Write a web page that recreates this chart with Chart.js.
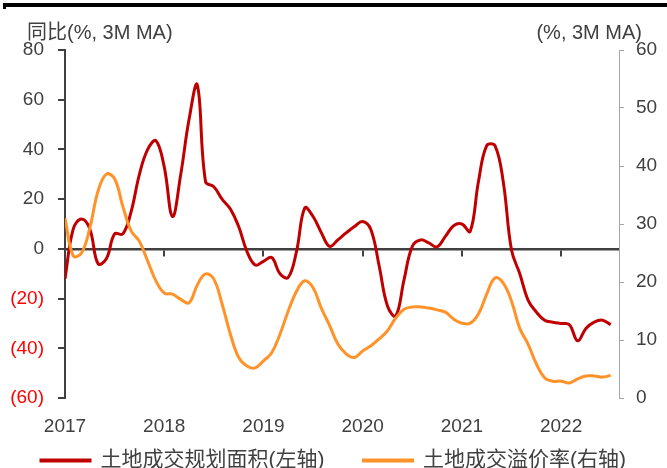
<!DOCTYPE html>
<html><head><meta charset="utf-8">
<script src="https://cdn.jsdelivr.net/npm/chart.js@4.4.0/dist/chart.umd.min.js"></script>
<style>
html,body{margin:0;padding:0;background:#fff;}
#wrap{position:relative;width:667px;height:468px;overflow:hidden;}
#topbar{position:absolute;left:3px;top:3px;width:664px;height:4px;background:#000;}
#stub{position:absolute;left:3px;top:7px;width:3px;height:2px;background:#000;}
canvas{position:absolute;left:0;top:0;}
</style></head><body>
<div id="wrap"><canvas id="c" width="667" height="468"></canvas><div id="topbar"></div><div id="stub"></div></div>
<script>
// ---- data (monthly, Jan 2017 .. Jul 2022) ----
const yearLabels = ['2017','2018','2019','2020','2021','2022'];
const seriesNames = ['土地成交规划面积(左轴)','土地成交溢价率(右轴)'];
const leftTitle = '同比(%, 3M MA)';
const rightTitle = '(%, 3M MA)';
const landArea = [
  -12, 8, 12, 8, -6, -4, 6, 6, 15, 30, 40, 43.5,
  33, 13, 30, 52, 66, 27, 25, 20, 16, 9, -1, -6.5,
  -5, -3.5, -10, -11.5, -1, 16.5, 13, 6.5, 1, 3.6, 6.4, 9,
  11, 7.7, -7, -23, -27, -12.5, 1, 3.6, 2.4, 0.8, 5, 9.3,
  10, 7, 27, 41.5, 41.5, 27, -0.5, -10, -20.6, -25.4, -28.7, -29.5,
  -30, -30.5, -37, -32, -29.5, -28.7, -30.5
];
const premium = [
  31, 24.5, 25, 29.3, 35.7, 38.6, 37.8, 33, 28.8, 27, 23.6, 20.2,
  18.1, 17.9, 17, 16.4, 19.5, 21.4, 20.5, 16.2, 11, 7, 5.5, 5.2,
  6.4, 7.8, 11, 15, 18.4, 20.2, 19, 15.5, 12.5, 9.3, 7.6, 7,
  8.1, 9, 10.2, 11.6, 13.8, 15.3, 15.7, 15.7, 15.5, 15.2, 14.8, 13.6,
  12.9, 12.9, 14.5, 17.9, 20.7, 19.8, 16.7, 12, 9.3, 5.9, 3.5, 2.9,
  2.9, 2.6, 3.3, 3.8, 3.8, 3.6, 3.9
];

const FONT = "'Liberation Sans', Arial, 'Noto Sans CJK SC', sans-serif";
const TEXT = '#404040';
const RED = '#C00000';
const ORANGE = '#FF9228';
const monthsSpan = 67;

Chart.defaults.font.family = FONT;
Chart.defaults.color = TEXT;

const titlePlugin = {
  id: 'axisTitles',
  afterDraw(chart) {
    const {ctx, chartArea} = chart;
    ctx.save();
    ctx.font = '20px ' + FONT;
    ctx.fillStyle = TEXT;
    ctx.textBaseline = 'middle';
    ctx.textAlign = 'left';
    ctx.fillText(leftTitle, chartArea.left - 38, chartArea.top - 17);
    ctx.textAlign = 'right';
    ctx.fillText(rightTitle, chartArea.right + 23, chartArea.top - 17);
    ctx.restore();
  }
};

new Chart(document.getElementById('c'), {
  type: 'line',
  data: {
    datasets: [
      {
        label: seriesNames[0],
        data: landArea.map((v, i) => ({x: i, y: v})),
        borderColor: RED, backgroundColor: RED,
        borderWidth: 3, pointRadius: 0, tension: 0.4,
        yAxisID: 'y', order: 2
      },
      {
        label: seriesNames[1],
        data: premium.map((v, i) => ({x: i, y: v})),
        borderColor: ORANGE, backgroundColor: ORANGE,
        borderWidth: 3, pointRadius: 0, tension: 0.4,
        yAxisID: 'y1', order: 1
      }
    ]
  },
  options: {
    responsive: false,
    animation: false,
    layout: {padding: {top: 50, left: 0, right: 0, bottom: 0}},
    plugins: {
      tooltip: {enabled: false},
      legend: {
        position: 'bottom',
        maxHeight: 57,
        labels: {
          boxWidth: 49, boxHeight: 1, padding: 39,
          color: TEXT, font: {size: 21, family: FONT},
          sort: (a, b) => a.datasetIndex - b.datasetIndex
        }
      }
    },
    scales: {
      x: {
        type: 'linear', min: 0, max: monthsSpan,
        position: {y: 0},
        ticks: {display: false, stepSize: 12, includeBounds: false},
        grid: {drawOnChartArea: false, drawTicks: true, tickLength: 6, color: '#404040', lineWidth: 2},
        border: {display: true, color: '#404040', width: 2.5}
      },
      x2: {
        type: 'linear', axis: 'x', min: 0, max: monthsSpan,
        position: {y: -61},
        ticks: {
          stepSize: 12, includeBounds: false, autoSkip: false, maxRotation: 0, padding: 15,
          color: TEXT, font: {size: 19, family: FONT},
          callback: (v) => yearLabels[v / 12]
        },
        grid: {display: false, drawTicks: false},
        border: {display: false}
      },
      spacer: {
        type: 'linear', axis: 'x', position: 'bottom', min: 0, max: monthsSpan,
        ticks: {display: false},
        grid: {display: false, drawTicks: false},
        border: {display: false},
        afterFit(s) { s.height = 13; }
      },
      y: {
        position: 'left', min: -60, max: 80,
        ticks: {
          stepSize: 20, padding: 14,
          color: (c) => c.tick.value < 0 ? '#FF0000' : TEXT,
          font: {size: 19, family: FONT},
          callback: (v) => v < 0 ? '(' + (-v) + ')' : String(v)
        },
        grid: {drawOnChartArea: false, tickLength: 7, color: '#404040', lineWidth: 2},
        border: {color: '#404040', width: 2},
        afterFit(s) { s.width = 65; }
      },
      y1: {
        position: 'right', min: 0, max: 60,
        ticks: {stepSize: 10, padding: 12, color: TEXT, font: {size: 19, family: FONT}},
        grid: {drawOnChartArea: false, tickLength: 5, color: '#A6A6A6', lineWidth: 1},
        border: {color: '#A6A6A6', width: 1},
        afterFit(s) { s.width = 48; }
      }
    }
  },
  plugins: [titlePlugin]
});
</script>
</body></html>
